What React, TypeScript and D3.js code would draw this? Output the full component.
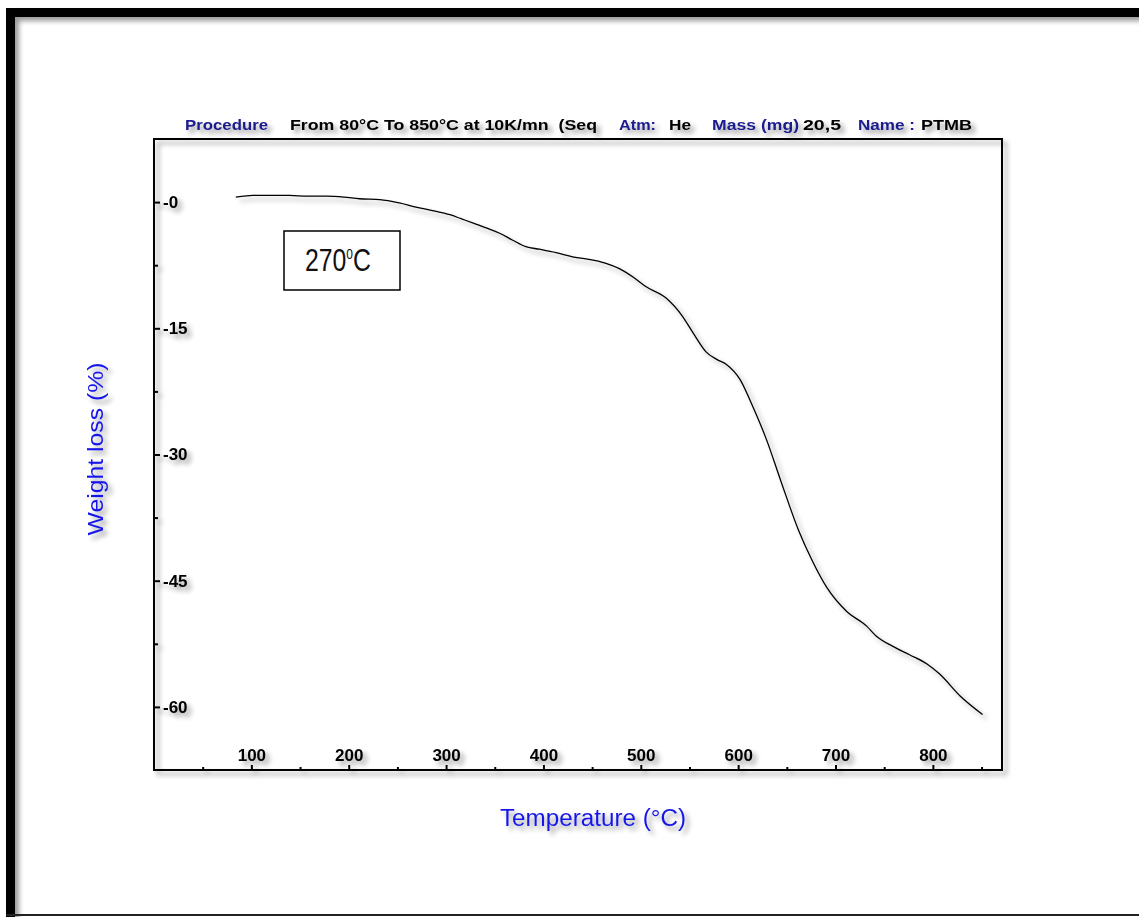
import React, { useEffect, useRef } from 'react';
import * as d3 from 'd3';

// TGA trace: temperature (°C) and weight loss (%)
const temps = [84, 92, 101, 120, 139, 158, 177, 195, 211, 232, 252, 269, 286, 304, 316, 328, 342, 355, 368, 382, 396, 413, 430, 451, 465, 478, 492, 506, 526, 543, 554, 567, 578, 588, 602, 615, 629, 644, 662, 676, 691, 711, 732, 742, 759, 776, 794, 807, 828, 851];
const weightLoss = [0.6, 0.7, 0.8, 0.8, 0.8, 0.7, 0.7, 0.6, 0.4, 0.3, -0.1, -0.6, -1.0, -1.5, -2.0, -2.5, -3.1, -3.7, -4.5, -5.3, -5.6, -6.0, -6.5, -6.9, -7.3, -7.9, -8.9, -10.1, -11.4, -13.6, -15.6, -17.8, -18.7, -19.3, -21.1, -24.3, -28.2, -33.2, -39.0, -42.6, -45.8, -48.6, -50.4, -51.6, -52.8, -53.8, -54.9, -56.1, -58.7, -60.9];

const xMajor = [100, 200, 300, 400, 500, 600, 700, 800];
const xMinor = [50, 150, 250, 350, 450, 550, 650, 750, 850];
const yMajor = [0, -15, -30, -45, -60];
const yMinor = [-7.5, -22.5, -37.5, -52.5];
const yLabels = ['-0', '-15', '-30', '-45', '-60'];

const headerParts = [
  { text: 'Procedure', x: 185, len: 83, key: true },
  { text: 'From 80°C To 850°C at 10K/mn  (Seq', x: 290, len: 307, key: false },
  { text: 'Atm:', x: 619, len: 37, key: true },
  { text: 'He', x: 669, len: 22, key: false },
  { text: 'Mass (mg)', x: 712, len: 87, key: true },
  { text: '20,5', x: 803, len: 38, key: false },
  { text: 'Name :', x: 858, len: 57, key: true },
  { text: 'PTMB', x: 921, len: 51, key: false },
];

const W = 1139;
const H = 917;
const margin = { left: 154, top: 139, right: 137, bottom: 147 };
const font = '"Liberation Sans", Arial, sans-serif';

export default function App() {
  const axisX = useRef<SVGGElement>(null);
  const axisXMinor = useRef<SVGGElement>(null);
  const axisY = useRef<SVGGElement>(null);
  const axisYMinor = useRef<SVGGElement>(null);

  const innerW = W - margin.left - margin.right;
  const innerH = H - margin.top - margin.bottom;

  const x = d3.scaleLinear().domain([0, 871]).range([0, innerW]);
  const y = d3.scaleLinear().domain([7.5, -67.5]).range([0, innerH]);

  const line = d3
    .line<number>()
    .x((_, i) => x(temps[i]))
    .y(d => y(d))
    .curve(d3.curveMonotoneX);

  useEffect(() => {
    const styleAxis = (sel: d3.Selection<SVGGElement, unknown, null, undefined>) => {
      sel.select('.domain').remove();
      sel.selectAll('line').attr('stroke', '#000').attr('stroke-width', 2);
      sel
        .selectAll('text')
        .attr('fill', '#000')
        .style('font-family', font)
        .style('font-weight', 'bold')
        .style('font-size', '17px');
    };

    d3.select(axisX.current!)
      .call(d3.axisTop(x).tickValues(xMajor).tickSize(5).tickPadding(4).tickFormat(d3.format('d')))
      .call(styleAxis);
    d3.select(axisXMinor.current!)
      .call(d3.axisTop(x).tickValues(xMinor).tickSize(3).tickFormat(() => ''))
      .call(styleAxis);

    d3.select(axisY.current!)
      .call(
        d3
          .axisRight(y)
          .tickValues(yMajor)
          .tickSize(6)
          .tickPadding(3)
          .tickFormat((_, i) => yLabels[i])
      )
      .call(styleAxis);
    d3.select(axisYMinor.current!)
      .call(d3.axisRight(y).tickValues(yMinor).tickSize(4).tickFormat(() => ''))
      .call(styleAxis);
  }, []);

  return (
    <svg
      width={W}
      height={H}
      viewBox={`0 0 ${W} ${H}`}
      style={{ position: 'absolute', left: 0, top: 0, background: '#fff' }}
    >
      <defs>
        <filter id="shadow" filterUnits="userSpaceOnUse" x={0} y={0} width={W} height={H}>
          <feGaussianBlur in="SourceAlpha" stdDeviation={2.5} />
          <feOffset dx={4} dy={4} result="blur" />
          <feComponentTransfer>
            <feFuncA type="linear" slope={0.4} />
          </feComponentTransfer>
          <feMerge>
            <feMergeNode />
            <feMergeNode in="SourceGraphic" />
          </feMerge>
        </filter>
      </defs>

      {/* outer picture border */}
      <g filter="url(#shadow)">
        <line x1={10.5} y1={8} x2={10.5} y2={H} stroke="#000" strokeWidth={9} />
        <line x1={6} y1={12.5} x2={W} y2={12.5} stroke="#000" strokeWidth={9} />
      </g>
      <line x1={6} y1={915} x2={W} y2={915} stroke="#222" strokeWidth={2} />

      {/* header */}
      <g filter="url(#shadow)" style={{ fontFamily: font, fontWeight: 'bold', fontSize: 15 }}>
        {headerParts.map(p => (
          <text
            key={p.text}
            x={p.x}
            y={130}
            textLength={p.len}
            lengthAdjust="spacingAndGlyphs"
            fill={p.key ? '#1a1a8c' : '#000'}
            style={{ whiteSpace: 'pre' }}
          >
            {p.text}
          </text>
        ))}
      </g>

      <g filter="url(#shadow)">
        <g transform={`translate(${margin.left}, ${margin.top})`}>
          <rect x={0} y={0} width={innerW} height={innerH} fill="none" stroke="#000" strokeWidth={2} />
          <g ref={axisX} transform={`translate(0, ${innerH})`} />
          <g ref={axisXMinor} transform={`translate(0, ${innerH})`} />
          <g ref={axisY} />
          <g ref={axisYMinor} />
          <path d={line(weightLoss) || ''} fill="none" stroke="#000" strokeWidth={1.3} />
        </g>

        <text
          transform="translate(103, 449) rotate(-90)"
          textAnchor="middle"
          textLength={173}
          lengthAdjust="spacingAndGlyphs"
          fill="#1818e8"
          style={{ fontFamily: font, fontSize: 22 }}
        >
          Weight loss (%)
        </text>
        <text
          x={593}
          y={826}
          textAnchor="middle"
          textLength={186}
          lengthAdjust="spacingAndGlyphs"
          fill="#1818e8"
          style={{ fontFamily: font, fontSize: 23 }}
        >
          Temperature (°C)
        </text>
      </g>

      {/* annotation box */}
      <rect x={284} y={231} width={116} height={59} fill="#fff" stroke="#000" strokeWidth={1.5} />
      <text
        transform="translate(305, 271) scale(0.8, 1)"
        fill="#111"
        style={{ fontFamily: font, fontSize: 31 }}
      >
        270
        <tspan dy={-12} fontSize={15}>
          0
        </tspan>
        <tspan dy={12}>C</tspan>
      </text>
    </svg>
  );
}
